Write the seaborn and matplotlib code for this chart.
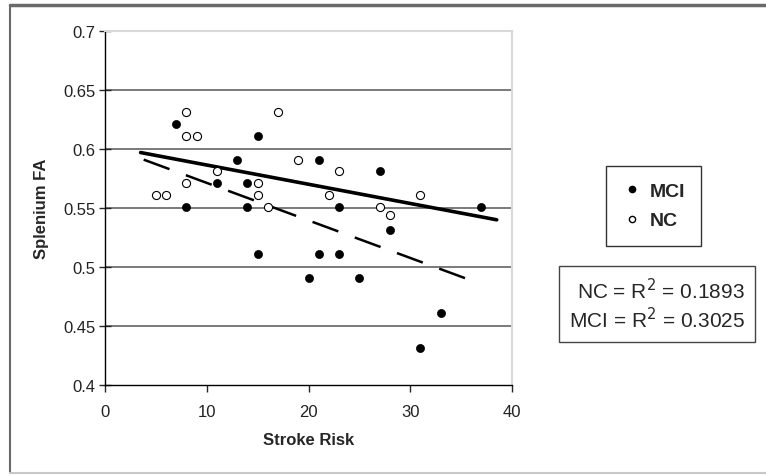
import matplotlib
matplotlib.use('Agg')
import matplotlib.pyplot as plt
import seaborn as sns
import pandas as pd
from matplotlib.lines import Line2D

# MCI points (Stroke Risk, Splenium FA)
mci_x = [7, 8, 11, 13, 14, 14, 15, 15, 20, 21, 21, 23, 23, 25, 27, 28, 31, 33, 37]
mci_y = [0.621, 0.551, 0.571, 0.591, 0.571, 0.551, 0.611, 0.511, 0.491, 0.591,
         0.511, 0.551, 0.511, 0.491, 0.581, 0.531, 0.431, 0.461, 0.551]

# NC points
nc_x = [5, 6, 8, 8, 9, 8, 11, 15, 15, 16, 17, 19, 22, 23, 27, 28, 31]
nc_y = [0.561, 0.561, 0.631, 0.611, 0.611, 0.571, 0.581, 0.571, 0.561, 0.551,
        0.631, 0.591, 0.561, 0.581, 0.551, 0.544, 0.561]

# trend lines as drawn in the original
nc_trend_x = [3.5, 38.5]
nc_trend_y = [0.597, 0.540]
mci_trend_x = [3.8, 36.5]
mci_trend_y = [0.591, 0.487]

r2_labels = ['NC = R$^2$ = 0.1893', 'MCI = R$^2$ = 0.3025']

sns.set_style('white')
plt.rcParams['font.family'] = ['Liberation Sans', 'DejaVu Sans']

df = pd.concat([
    pd.DataFrame({'risk': mci_x, 'fa': mci_y, 'group': 'MCI'}),
    pd.DataFrame({'risk': nc_x, 'fa': nc_y, 'group': 'NC'}),
])

fig = plt.figure(figsize=(7.66, 4.77), dpi=100)
ax = fig.add_axes([105 / 766, 1 - 386 / 477, 407 / 766, 354 / 477])

# gridlines
for g in [0.45, 0.5, 0.55, 0.6, 0.65]:
    ax.axhline(g, color='#7a7a7a', lw=1.4, zorder=0)

sns.lineplot(x=nc_trend_x, y=nc_trend_y, ax=ax, color='black', lw=2.6, zorder=2)
sns.lineplot(x=mci_trend_x, y=mci_trend_y, ax=ax, color='black', lw=1.8,
             zorder=2).lines[-1].set_dashes([11, 7])

sns.scatterplot(data=df[df.group == 'MCI'], x='risk', y='fa', ax=ax, color='black',
                s=34, edgecolor='black', linewidth=0.5, zorder=3)
sns.scatterplot(data=df[df.group == 'NC'], x='risk', y='fa', ax=ax, facecolor='white',
                s=34, edgecolor='black', linewidth=0.8, zorder=3)

ax.set_xlim(0, 40)
ax.set_ylim(0.4, 0.7)
ax.set_xticks([0, 10, 20, 30, 40])
ax.set_yticks([0.4, 0.45, 0.5, 0.55, 0.6, 0.65, 0.7])
ax.set_yticklabels(['0.4', '0.45', '0.5', '0.55', '0.6', '0.65', '0.7'])
ax.tick_params(axis='y', direction='inout', length=8, width=1, labelsize=12,
               labelcolor='#222222', pad=3, left=True)
ax.tick_params(axis='x', direction='out', length=5, width=1, labelsize=12,
               labelcolor='#222222', pad=9, bottom=True)

for side in ['left', 'bottom']:
    ax.spines[side].set_color('black')
    ax.spines[side].set_linewidth(1)
for side in ['top', 'right']:
    ax.spines[side].set_color('#d8d8d8')
    ax.spines[side].set_linewidth(1.5)

ax.set_xlabel('Stroke Risk', fontweight='bold', fontsize=12, labelpad=9)
ax.set_ylabel('Splenium FA', fontweight='bold', fontsize=12, labelpad=10)

# legend
handles = [
    Line2D([], [], marker='o', ls='none', markerfacecolor='black', markeredgecolor='black', markersize=4.5),
    Line2D([], [], marker='o', ls='none', markerfacecolor='white', markeredgecolor='black', markersize=4.5),
]
leg = fig.legend(handles, ['MCI', 'NC'], loc='center', bbox_to_anchor=(653.5 / 766, 1 - 207 / 477),
                 prop={'weight': 'bold', 'size': 14}, frameon=True, fancybox=False,
                 edgecolor='black', handletextpad=0.4, handlelength=1.0, labelspacing=0.6,
                 borderpad=0.85, borderaxespad=0)
leg.get_frame().set_linewidth(1)

# R^2 box
fig.text(657 / 766, 1 - 305 / 477, '\n'.join(r2_labels), ha='center', va='center',
         multialignment='right', fontsize=15, linespacing=1.2,
         bbox=dict(boxstyle='square,pad=0.5', facecolor='white', edgecolor='#444444', lw=1))

# outer frame
fig.add_artist(Line2D([10 / 766, 1], [1 - 6 / 477, 1 - 6 / 477], color='#6a6a6a', lw=2.5))
fig.add_artist(Line2D([10 / 766, 10 / 766], [1 - 6 / 477, 1 - 473 / 477], color='#6a6a6a', lw=1.5))
fig.add_artist(Line2D([10 / 766, 1], [1 - 474 / 477, 1 - 474 / 477], color='#c8c8c8', lw=1.5))

fig.savefig('out.png', dpi=100)
